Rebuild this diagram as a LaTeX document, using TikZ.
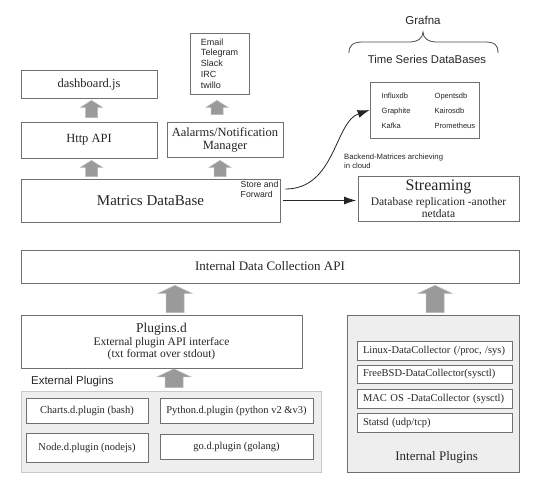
\documentclass[tikz,border=0pt]{standalone}
\usepackage{fontspec}
\setmainfont{Liberation Serif}
\setsansfont{Liberation Sans}
\usetikzlibrary{calc,arrows.meta}
\definecolor{bord}{HTML}{707070}
\definecolor{txt}{HTML}{262626}
\definecolor{arrfill}{HTML}{9A9A9A}
\definecolor{arredge}{HTML}{B8B8B8}
\definecolor{panel}{HTML}{EEEEEE}
\definecolor{panelbord}{HTML}{C8C8C8}
\newcommand{\fsz}[2]{\fontsize{#1}{#2}\selectfont}
\newcommand{\blkarrow}[5]{%
  \filldraw[blkarr] let \p1=#1, \p2=#2 in
    (\x1-#3,\y1) -- (\x1-#3,\y2-#5) -- (\x1-#4,\y2-#5) -- (\x1,\y2) --
    (\x1+#4,\y2-#5) -- (\x1+#3,\y2-#5) -- (\x1+#3,\y1) -- cycle;}
\tikzset{
  box/.style={draw=bord, line width=0.8pt, fill=white, inner sep=2pt, align=center, text=txt},
  ibox/.style={draw=bord, line width=0.8pt, fill=white, inner xsep=6pt, inner ysep=2pt,
    text width=143pt, align=left, text=txt, font=\fsz{10.5}{12}},
  panelE/.style={draw=panelbord, line width=0.8pt, fill=panel},
  panelI/.style={draw=bord, line width=0.8pt, fill=panel},
  arr/.style={-{Latex[length=12pt,width=8pt]}, line width=0.8pt, draw=black!85},
  lbl/.style={inner sep=0pt, align=left, text=txt},
  blkarr/.style={fill=arrfill, draw=arredge, line width=0.5pt, line join=miter},
  bracestyle/.style={draw=black!70, line width=0.8pt}
}
\begin{document}
\begin{tikzpicture}[x=1pt,y=-1pt]
\useasboundingbox (0,0) rectangle (533,480);
\fill[white] (0,0) rectangle (533,480);

% top left stack
\node[box, minimum width=136pt, minimum height=28pt, font=\fsz{12.5}{15}] (dash) at (89,84) {dashboard.js};
\node[box, minimum width=136pt, minimum height=36pt, font=\fsz{12.5}{15}] (http) at (89,140) {Http API};
\node[box, minimum width=59pt, minimum height=61pt, font=\sffamily\fsz{9}{10.8}, align=left] (email) at (219.5,63.5) {Email\\Telegram\\Slack\\IRC\\twillo};
\node[box, minimum width=116pt, minimum height=35pt, font=\fsz{12.5}{13}] (alarm) at (225,139.5) {Aalarms/Notification\\Manager};
\node[box, minimum width=259pt, minimum height=43pt, font=\fsz{15}{18}] (matrics) at (150.5,200.5) {Matrics DataBase};

% time series
\node[lbl, font=\sffamily\fsz{11.5}{13}, align=center] (grafna) at (423,20.7) {Grafna};
\draw[bracestyle] (349,53) .. controls (349,45) and (353,42) .. (363,42) -- (409,42)
  .. controls (418,42) and (423,38) .. (423,32)
  .. controls (423,38) and (428,42) .. (437,42) -- (485,42)
  .. controls (495,42) and (498,45) .. (498,53);
\node[lbl, font=\sffamily\fsz{11.3}{13}, align=center] (tstitle) at (427,59.3) {Time Series DataBases};
\node[box, minimum width=109pt, minimum height=56pt] (tsdb) at (424.5,110) {};
\node[lbl, anchor=west, font=\sffamily\fsz{7.5}{15}] (tsdbl) at (381.5,110.5)
  {\begin{tabular}{@{}p{53pt}@{}l@{}}Influxdb & Opentsdb\\Graphite & Kairosdb\\Kafka & Prometheus\end{tabular}};

% streaming
\node[box, minimum width=161pt, minimum height=45pt, inner sep=1pt, font=\fsz{11.5}{12.3}] (stream) at (438.5,198.5)
  {{\fsz{16}{16}Streaming}\\[2.7pt]Database replication -another\\netdata};

\node[lbl, anchor=west, font=\sffamily\fsz{8.7}{9.8}] (sf) at (240.5,189.3) {Store and\\Forward};
\node[lbl, anchor=west, font=\sffamily\fsz{7.7}{9.3}] (backend) at (344,161.5) {Backend-Matrices archieving\\in cloud};

\coordinate (cstart) at ([xshift=5pt,yshift=11.5pt]matrics.east);
\draw[arr] (cstart) .. controls +(50,0) and +(-35,12) .. (tsdb.west);
\draw[arr] ([xshift=3pt]matrics.east) -- ($(matrics.east -| stream.west)+(-1.5,0)$);

% lower part
\node[box, minimum width=498pt, minimum height=33pt, font=\fsz{13}{15}] (idc) at (270,266.5) {Internal Data Collection API};
\node[box, minimum width=281pt, minimum height=53pt, font=\fsz{11.5}{12}] (plugins) at (161.5,341.5)
  {{\fsz{13.5}{14}Plugins.d}\\[1.6pt]External plugin API interface\\(txt format over stdout)};

\node[panelE, minimum width=300pt, minimum height=81pt] (extbox) at (171,431.5) {};
\node[panelI, minimum width=172pt, minimum height=157pt] (intbox) at (433,393.5) {};

\node[lbl, anchor=west, font=\sffamily\fsz{11.4}{13}] (extlbl) at (31,382) {External Plugins};

\node[box, minimum width=122pt, minimum height=25pt, font=\fsz{10.5}{12}] (charts) at (87,410.5) {Charts.d.plugin (bash)};
\node[box, minimum width=153pt, minimum height=25pt, font=\fsz{10.5}{12}] (python) at (236.5,410.5) {Python.d.plugin (python v2 \&v3)};
\node[box, minimum width=122pt, minimum height=29pt, font=\fsz{10.5}{12}] (nodejs) at (87,447.5) {Node.d.plugin (nodejs)};
\node[box, minimum width=153pt, minimum height=25pt, font=\fsz{10.5}{12}] (golang) at (236.5,446.5) {go.d.plugin (golang)};

\node[ibox, minimum height=19pt] (linux) at (434.5,350.5) {Linux-DataCollector (/proc, /sys)};
\node[ibox, minimum height=18pt] (freebsd) at (434.5,374) {FreeBSD-DataCollector(sysctl)};
\node[ibox, minimum height=19pt] (macos) at (434.5,398.5) {MAC OS -DataCollector (sysctl)};
\node[ibox, minimum height=19pt] (statsd) at (434.5,422.5) {Statsd (udp/tcp)};
\node[lbl, font=\fsz{13}{15}, align=center] (intlbl) at (436.7,457) {Internal Plugins};

% block arrows
\blkarrow{([xshift=2.5pt,yshift=4pt]http.north)}{([xshift=2.5pt,yshift=-2pt]dash.south)}{6pt}{11pt}{7pt}
\blkarrow{([xshift=-59pt,yshift=2pt]matrics.north)}{([yshift=-2pt]http.south)}{6pt}{11pt}{7pt}
\blkarrow{([xshift=-8pt,yshift=7pt]alarm.north)}{([yshift=-6pt]email.south)}{6pt}{11pt}{7pt}
\blkarrow{([xshift=69.5pt,yshift=2pt]matrics.north)}{([yshift=-3pt]alarm.south)}{6pt}{11pt}{7pt}
\blkarrow{([xshift=13.5pt,yshift=2pt]plugins.north)}{([yshift=-2pt]idc.south)}{9pt}{17pt}{8pt}
\blkarrow{([xshift=2pt,yshift=2pt]intbox.north)}{([yshift=-2pt]idc.south)}{9pt}{17pt}{8pt}
\blkarrow{([xshift=3pt,yshift=3pt]extbox.north)}{([yshift=-0.5pt]plugins.south)}{9pt}{17pt}{8pt}
\end{tikzpicture}
\end{document}
